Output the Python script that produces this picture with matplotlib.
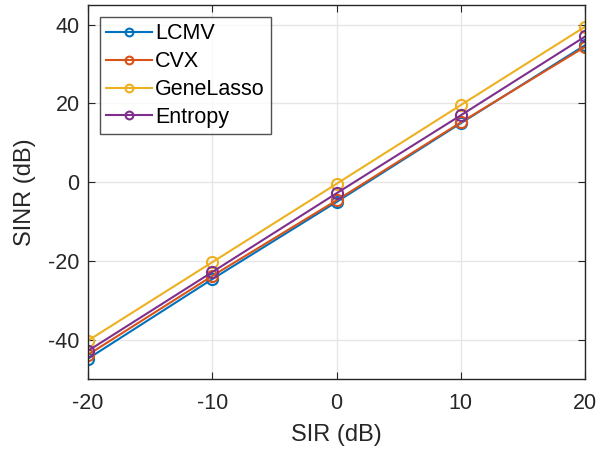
import matplotlib
matplotlib.use('Agg')
import matplotlib.pyplot as plt

plt.rcParams['font.family'] = ['Liberation Sans', 'DejaVu Sans']
plt.rcParams['axes.unicode_minus'] = False

sir = [-20, -10, 0, 10, 20]
lcmv = [-44.8, -24.6, -5.0, 15.0, 34.8]
cvx = [-43.8, -23.8, -4.6, 15.2, 34.4]
genelasso = [-40.2, -20.3, -0.4, 19.6, 39.5]
entropy = [-42.8, -22.8, -2.8, 17.0, 37.0]

names = ['LCMV', 'CVX', 'GeneLasso', 'Entropy']
series = [lcmv, cvx, genelasso, entropy]
colors = ['#0072BD', '#D95319', '#EDB120', '#7E2F8E']

fig = plt.figure(figsize=(6.07, 4.53), dpi=100)
ax = fig.add_axes([0.145, 0.163, 0.819, 0.826])

for name, vals, c in zip(names, series, colors):
    ax.plot(sir, vals, '-o', color=c, label=name, lw=1.5, ms=8,
            mfc='none', mec=c, mew=1.5)

ax.set_xlim(-20, 20)
ax.set_ylim(-50, 45)
ax.set_xticks([-20, -10, 0, 10, 20])
ax.set_yticks([-40, -20, 0, 20, 40])
ax.tick_params(direction='in', labelsize=15.5, length=5, color='#262626',
               labelcolor='#262626', top=True, right=True)
ax.tick_params(axis='x', pad=10)
ax.tick_params(axis='y', pad=6)
ax.grid(True, color='#e6e6e6', lw=1)
ax.set_axisbelow(True)
for s in ax.spines.values():
    s.set_color('#262626')
    s.set_linewidth(1)
ax.set_xlabel('SIR (dB)', fontsize=17, color='#262626', labelpad=7)
ax.set_ylabel('SINR (dB)', fontsize=17, color='#262626', labelpad=9)

leg = ax.legend(loc='upper left', fontsize=15.5, frameon=True, fancybox=False,
                edgecolor='#262626', handlelength=2.1, borderpad=0.3,
                labelspacing=0.32, handletextpad=0.15, borderaxespad=0.55,
                markerscale=0.7)
leg.get_frame().set_linewidth(1)

fig.savefig('out.png', dpi=100)
